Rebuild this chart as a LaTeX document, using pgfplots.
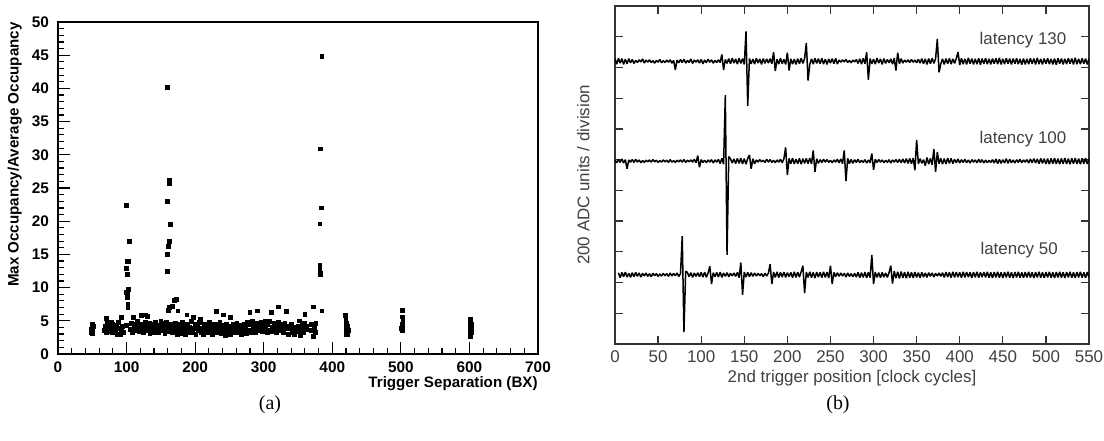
\documentclass[border=0pt]{standalone}
\usepackage{fontspec}
\setmainfont{Liberation Serif}
\newfontfamily\arial{Liberation Sans}
\usepackage{pgfplots}
\pgfplotsset{compat=1.18}
\pgfplotsset{trace/.style={black, line width=0.75bp, mark=none, line join=bevel}}

\begin{document}
\begin{tikzpicture}
\useasboundingbox (0,0) rectangle (552bp,220.5bp);

% (a) occupancy ratio vs trigger separation
\begin{axis}[
    at={(29bp,43.5bp)}, anchor=south west,
    scale only axis, width=240bp, height=166bp,
    xmin=0, xmax=700, ymin=0, ymax=50,
    xtick={0,100,...,700}, ytick={0,5,...,50},
    minor x tick num=4, minor y tick num=4,
    tick align=inside, tick pos=left,
    major tick length=6bp, minor tick length=3bp,
    axis line style={line width=0.7bp},
    every tick/.style={black, line width=0.6bp},
    /pgf/number format/assume math mode=true,
    ticklabel style={font=\arial\bfseries\fontsize{7.7}{9}\selectfont},
    xticklabel style={yshift=-0.5bp},
    yticklabel style={xshift=-1bp},
    xlabel={Trigger Separation (BX)},
    ylabel={Max Occupancy/Average Occupancy},
    label style={font=\arial\bfseries\fontsize{7.6}{9}\selectfont, inner sep=0pt},
    xlabel style={at={(axis description cs:1,0)}, anchor=north east, yshift=-11bp},
    ylabel style={at={(axis description cs:-0.09,1)}, anchor=east},
    clip=false,
]
\addplot[only marks, mark=square*, mark size=0.95bp, black] coordinates {
(49,3.3)(49,3.7)(50,4.1)(50,4.4)(51,3.5)(51,3.9)(52,4.2)(50,3.1)
(68,3.6)(69,4.2)(70,5.4)(71,3.3)(72,4.6)(70,3.9)
(76,3.4)(77,4.0)(78,4.7)(79,3.2)(80,3.8)(80,4.4)
(84,3.5)(85,4.3)(86,3.0)(87,3.9)(88,4.8)
(91,2.9)(92,3.6)(93,5.5)(94,4.2)(95,3.2)
(100,4.3)
(106,3.7)(107,4.6)(108,3.3)(110,5.5)(111,4.0)(112,3.5)
(114,4.4)(115,3.8)(116,4.9)(118,3.4)(119,4.1)(120,3.6)
(122,5.8)(123,4.5)(124,3.2)(125,4.0)(126,3.7)(127,4.8)(128,5.9)
(130,5.7)(131,4.2)(132,3.5)(133,4.6)(134,3.1)(136,3.9)
(138,4.4)(139,3.3)(141,4.0)(142,4.7)(144,3.6)(145,4.3)(146,3.2)
(148,4.1)(150,5.0)(151,3.5)(152,4.6)(154,3.8)(155,4.4)(156,3.1)
(158,4.8)(159,3.4)(161,4.1)(163,3.7)(164,4.5)(166,3.2)
(168,4.0)(169,3.3)(171,4.6)(172,3.6)(174,2.9)(175,4.2)(176,3.5)
(178,4.4)(179,3.1)(181,3.8)(182,4.7)(184,3.4)(185,4.2)(186,3.0)
(188,5.9)(189,4.5)(190,3.3)(192,4.0)(193,3.6)(195,4.9)(196,3.2)
(198,5.5)(199,3.8)(200,4.4)(201,3.0)(203,4.1)(204,3.5)(206,4.8)
(208,5.2)(209,3.3)(210,3.9)(212,2.9)(213,4.5)(214,3.6)(216,4.2)
(218,3.2)(219,4.0)(221,4.7)(222,3.4)(224,3.9)(225,3.0)(226,4.4)
(228,3.7)(229,4.5)(231,6.4)(232,3.3)(233,4.1)(235,3.6)(236,4.8)
(238,3.1)(239,4.3)(241,5.9)(242,3.5)(243,4.0)(244,2.8)(246,4.4)
(248,3.4)(249,4.2)(251,3.0)(252,5.5)(253,3.8)(255,4.5)(256,3.2)
(258,4.1)(259,3.6)(261,4.6)(262,3.3)(264,4.0)(265,3.5)(266,4.3)
(268,3.0)(269,3.9)(271,4.5)(272,3.4)(274,4.2)(275,3.1)(276,4.7)
(278,3.6)(280,6.3)(281,4.4)(282,3.3)(284,4.9)(285,3.8)(286,4.2)
(288,3.2)(289,4.6)(291,6.5)(292,3.5)(293,4.1)(295,3.9)(296,4.8)
(298,3.4)(299,4.4)(301,3.7)(302,5.0)(303,4.2)(305,3.3)(306,4.5)
(308,3.6)(309,4.9)(311,6.3)(312,4.0)(313,3.4)(315,4.6)(316,3.8)
(318,4.3)(319,3.2)(321,4.8)(322,7.1)(323,3.7)(325,4.4)(326,3.5)
(328,4.1)(329,3.3)(331,4.6)(332,3.8)(333,6.4)(335,4.2)(336,3.0)
(338,3.9)(340,4.5)(341,3.2)(343,4.0)(345,2.9)(346,3.6)
(350,4.1)(351,3.4)(352,5.0)(354,2.8)(355,3.9)(356,4.4)
(358,3.3)(359,4.6)(360,6.0)(362,3.7)(363,4.2)
(369,4.4)(370,3.5)(372,7.1)(373,2.7)(374,4.0)(375,3.2)(376,4.6)
(419,5.8)(420,5.3)(421,4.6)(422,4.2)(421,3.8)(420,3.4)(421,3.0)(422,2.9)(423,3.6)
(502,6.6)(502,5.6)(503,5.0)(502,4.4)(503,4.0)(501,3.8)(502,3.6)(503,4.7)
(601,5.3)(602,4.9)(603,4.5)(601,4.1)(602,3.6)(603,3.2)(602,2.9)(601,2.6)(603,3.9)
(385,44.8)(160,40.2)(383,30.9)(162,26.1)(163,25.7)(160,23.0)(100,22.4)(384,22.0)
(164,19.5)(382,19.6)(104,17.0)(163,17.0)(161,16.2)(160,15.0)(101,14.0)(103,14.0)
(382,13.4)(382,12.8)(383,12.2)(383,11.9)(160,12.5)(100,12.9)(101,12.0)(103,9.7)
(100,9.3)(101,9.0)(101,8.5)(102,7.5)(102,7.0)(385,6.5)(161,6.6)(163,7.0)(167,7.2)
(170,8.1)(173,8.2)(175,6.5)
};
\end{axis}

% (b) traces for three latencies
\begin{axis}[
    at={(307.5bp,48.5bp)}, anchor=south west,
    scale only axis, width=237bp, height=169bp,
    xmin=0, xmax=550, ymin=0, ymax=11,
    xtick={0,50,...,550}, ytick={1,...,10}, yticklabels={},
    tick align=inside, major tick length=3.8bp,
    axis line style={black!80, line width=0.6bp},
    every tick/.style={black!80, line width=0.6bp},
    /pgf/number format/assume math mode=true,
    ticklabel style={font=\arial\fontsize{8.5}{10}\selectfont, text=black!75},
    xlabel={2nd trigger position [clock cycles]},
    ylabel={200 ADC units / division},
    label style={font=\arial\fontsize{8.5}{10}\selectfont, text=black!75},
    xlabel style={at={(axis description cs:0.5,0)}, anchor=north, yshift=-13bp, inner sep=0pt},
    ylabel style={at={(axis description cs:-0.067,0.5)}, anchor=center},
]
\addplot[trace] coordinates {
(0,9.28)(2,9.11)(4,9.30)(6,9.14)(8,9.29)(10,9.10)(12,9.27)(14,9.12)(16,9.29)(18,9.15)
(20,9.26)(22,9.13)(24,9.23)(26,9.16)(28,9.25)(30,9.18)(32,9.28)(34,9.14)(36,9.24)(38,9.17)
(40,9.25)(42,9.16)(44,9.22)(46,9.14)(48,9.23)(50,9.17)(52,9.26)(54,9.15)(56,9.22)(58,9.16)
(60,9.24)(62,9.17)(64,9.25)(66,9.14)(68,9.23)(70,8.92)(72,9.24)(74,9.15)(76,9.26)(78,9.16)
(80,9.27)(82,9.14)(84,9.23)(86,9.16)(88,9.28)(90,9.13)(92,9.24)(94,9.17)(96,9.25)(98,9.14)
(100,9.26)(102,9.12)(104,9.24)(106,9.15)(108,9.27)(110,9.17)(112,9.25)(114,9.14)(116,9.23)(118,9.16)
(120,9.25)(122,9.16)(124,9.42)(126,8.92)(128,9.26)(130,9.13)(132,9.29)(134,9.12)(136,9.30)(138,9.14)
(140,9.28)(142,9.11)(144,9.30)(146,9.13)(148,9.29)(150,9.10)(152,10.17)(154,7.75)(156,9.29)(158,9.12)
(160,9.27)(162,9.11)(164,9.30)(166,9.14)(168,9.28)(170,9.10)(172,9.29)(174,9.13)(176,9.28)(178,9.14)
(180,9.29)(182,9.12)(184,9.50)(186,8.88)(188,9.27)(190,9.11)(192,9.30)(194,9.12)(196,9.26)(198,9.10)
(200,9.48)(202,8.90)(204,9.28)(206,9.11)(208,9.27)(210,9.10)(212,9.29)(214,9.12)(216,9.30)(218,9.13)
(220,9.29)(222,9.80)(224,8.57)(226,9.10)(228,9.28)(230,9.11)(232,9.30)(234,9.13)(236,9.29)(238,9.12)
(240,9.30)(242,9.11)(244,9.27)(246,9.10)(248,9.28)(250,9.14)(252,9.29)(254,9.12)(256,9.30)(258,9.11)
(260,9.24)(262,9.17)(264,9.25)(266,9.18)(268,9.26)(270,9.16)(272,9.23)(274,9.15)(276,9.24)(278,9.18)
(280,9.26)(282,9.13)(284,9.28)(286,9.11)(288,9.30)(290,9.12)(292,9.50)(294,8.60)(296,9.29)(298,9.12)
(300,9.27)(302,9.11)(304,9.30)(306,9.14)(308,9.28)(310,9.10)(312,9.29)(314,9.13)(316,9.26)(318,9.15)
(320,9.28)(322,9.11)(324,9.30)(326,8.90)(328,9.48)(330,9.12)(332,9.29)(334,9.14)(336,9.24)(338,9.17)
(340,9.25)(342,9.16)(344,9.26)(346,9.17)(348,9.24)(350,9.15)(352,9.27)(354,9.14)(356,9.29)(358,9.12)
(360,9.28)(362,9.10)(364,9.29)(366,9.12)(368,9.30)(370,9.13)(372,9.29)(374,9.93)(376,8.84)(378,9.11)
(380,9.28)(382,9.10)(384,9.29)(386,9.12)(388,9.30)(390,9.11)(392,9.28)(394,9.13)(396,9.29)(398,9.50)
(400,9.08)(402,9.30)(404,9.11)(406,9.28)(408,9.10)(410,9.31)(412,9.12)(414,9.29)(416,9.10)(418,9.28)
(420,9.11)(422,9.30)(424,9.09)(426,9.29)(428,9.12)(430,9.30)(432,9.11)(434,9.28)(436,9.10)(438,9.29)
(440,9.12)(442,9.30)(444,9.11)(446,9.31)(448,9.10)(450,9.28)(452,9.11)(454,9.30)(456,9.12)(458,9.29)
(460,9.10)(462,9.29)(464,9.12)(466,9.30)(468,9.11)(470,9.28)(472,9.09)(474,9.29)(476,9.10)(478,9.28)
(480,9.11)(482,9.30)(484,9.12)(486,9.29)(488,9.10)(490,9.31)(492,9.11)(494,9.28)(496,9.10)(498,9.29)
(500,9.12)(502,9.30)(504,9.11)(506,9.28)(508,9.10)(510,9.29)(512,9.09)(514,9.30)(516,9.12)(518,9.29)
(520,9.10)(522,9.28)(524,9.11)(526,9.30)(528,9.12)(530,9.29)(532,9.10)(534,9.31)(536,9.11)(538,9.28)
(540,9.11)(542,9.30)(544,9.12)(546,9.29)(548,9.10)(550,9.28)
};
\addplot[trace] coordinates {
(0,5.98)(2,5.90)(4,6.01)(6,5.91)(8,6.02)(10,5.89)(12,6.00)(14,5.70)(16,5.99)(18,5.92)
(20,6.00)(22,5.91)(24,6.01)(26,5.92)(28,5.99)(30,5.90)(32,5.97)(34,5.91)(36,5.98)(38,5.93)
(40,5.99)(42,5.92)(44,6.00)(46,5.93)(48,5.98)(50,5.91)(52,5.97)(54,5.92)(56,5.99)(58,5.93)
(60,5.98)(62,5.91)(64,6.00)(66,5.92)(68,5.97)(70,5.91)(72,5.98)(74,5.93)(76,5.99)(78,5.92)
(80,6.00)(82,5.91)(84,5.98)(86,5.93)(88,5.99)(90,5.92)(92,6.01)(94,5.90)(96,6.13)(98,5.75)
(100,6.00)(102,5.91)(104,5.98)(106,5.90)(108,5.99)(110,5.92)(112,6.00)(114,5.89)(116,5.99)(118,5.92)
(120,6.01)(122,5.87)(124,6.04)(126,5.85)(128,8.10)(130,2.90)(132,6.10)(134,6.03)(136,5.89)(138,6.02)
(140,5.87)(142,6.04)(144,5.88)(146,6.05)(148,5.86)(150,6.03)(152,5.85)(154,6.04)(156,6.15)(158,5.70)
(160,6.03)(162,5.86)(164,5.99)(166,5.92)(168,6.00)(170,5.93)(172,5.98)(174,5.91)(176,6.01)(178,5.92)
(180,6.00)(182,5.91)(184,5.98)(186,5.90)(188,5.99)(190,5.92)(192,6.01)(194,5.90)(196,6.03)(198,6.40)
(200,5.50)(202,6.04)(204,5.87)(206,6.05)(208,5.86)(210,6.02)(212,5.87)(214,6.04)(216,5.85)(218,6.03)
(220,5.88)(222,6.04)(224,5.87)(226,6.05)(228,5.86)(230,6.30)(232,5.60)(234,6.03)(236,5.88)(238,6.00)
(240,5.91)(242,6.01)(244,5.92)(246,6.00)(248,5.91)(250,5.98)(252,5.90)(254,5.99)(256,5.92)(258,6.01)
(260,5.90)(262,6.02)(264,5.87)(266,6.30)(268,5.30)(270,6.04)(272,5.87)(274,6.01)(276,5.88)(278,6.00)
(280,5.91)(282,6.01)(284,5.90)(286,5.98)(288,5.91)(290,6.00)(292,5.89)(294,5.99)(296,5.90)(298,6.20)
(300,5.67)(302,6.01)(304,5.91)(306,6.00)(308,5.92)(310,5.99)(312,5.90)(314,5.98)(316,5.91)(318,6.00)
(320,5.89)(322,5.99)(324,5.92)(326,6.00)(328,5.91)(330,6.01)(332,5.90)(334,6.02)(336,5.89)(338,6.03)
(340,5.88)(342,6.04)(344,5.87)(346,6.05)(348,5.65)(350,6.64)(352,5.86)(354,6.03)(356,5.88)(358,6.00)
(360,5.80)(362,6.07)(364,5.85)(366,6.04)(368,5.83)(370,6.35)(372,5.60)(374,6.25)(376,5.87)(378,6.04)
(380,5.85)(382,6.03)(384,5.86)(386,6.05)(388,5.88)(390,6.04)(392,5.87)(394,6.01)(396,5.90)(398,6.02)
(400,5.89)(402,6.00)(404,5.91)(406,6.01)(408,5.90)(410,5.99)(412,5.89)(414,6.00)(416,5.92)(418,5.99)
(420,5.90)(422,6.01)(424,5.91)(426,6.00)(428,5.89)(430,5.99)(432,5.90)(434,5.98)(436,5.91)(438,6.00)
(440,5.89)(442,6.02)(444,5.87)(446,6.01)(448,5.88)(450,6.00)(452,5.89)(454,6.03)(456,5.88)(458,6.01)
(460,5.90)(462,5.99)(464,5.89)(466,6.00)(468,5.91)(470,6.01)(472,5.90)(474,5.99)(476,5.92)(478,6.00)
(480,5.89)(482,6.02)(484,5.90)(486,6.03)(488,5.89)(490,6.02)(492,5.87)(494,6.04)(496,5.88)(498,6.03)
(500,5.86)(502,6.03)(504,5.85)(506,6.04)(508,5.87)(510,6.05)(512,5.86)(514,6.03)(516,5.85)(518,6.04)
(520,5.87)(522,6.05)(524,5.86)(526,6.03)(528,5.85)(530,6.04)(532,5.87)(534,6.05)(536,5.86)(538,6.03)
(540,5.85)(542,6.04)(544,5.87)(546,6.05)(548,5.86)(550,6.03)
};
\addplot[trace] coordinates {
(4,2.32)(6,2.16)(8,2.33)(10,2.19)(12,2.34)(14,2.18)(16,2.30)(18,2.17)
(20,2.32)(22,2.19)(24,2.33)(26,2.20)(28,2.31)(30,2.18)(32,2.30)(34,2.21)(36,2.31)(38,2.20)
(40,2.29)(42,2.19)(44,2.30)(46,2.22)(48,2.29)(50,2.20)(52,2.28)(54,2.21)(56,2.30)(58,2.22)
(60,2.29)(62,2.20)(64,2.31)(66,2.21)(68,2.30)(70,2.22)(72,2.31)(74,2.20)(76,2.29)(78,3.51)
(80,0.39)(82,2.37)(84,2.33)(86,2.19)(88,2.32)(90,2.17)(92,2.31)(94,2.20)(96,2.32)(98,2.19)
(100,2.33)(102,2.18)(104,2.34)(106,2.17)(108,2.31)(110,2.53)(112,1.95)(114,2.32)(116,2.19)(118,2.33)
(120,2.18)(122,2.34)(124,2.17)(126,2.31)(128,2.20)(130,2.32)(132,2.19)(134,2.30)(136,2.21)(138,2.31)
(140,2.20)(142,2.33)(144,2.16)(146,2.65)(148,1.60)(150,2.34)(152,2.18)(154,2.33)(156,2.19)(158,2.32)
(160,2.20)(162,2.31)(164,2.21)(166,2.30)(168,2.22)(170,2.29)(172,2.19)(174,2.30)(176,2.21)(178,2.31)
(180,2.60)(182,1.95)(184,2.34)(186,2.17)(188,2.35)(190,2.16)(192,2.33)(194,2.18)(196,2.34)(198,2.17)
(200,2.32)(202,2.19)(204,2.33)(206,2.16)(208,2.35)(210,2.17)(212,2.34)(214,2.18)(216,2.35)(218,2.55)
(220,1.65)(222,2.34)(224,2.17)(226,2.35)(228,2.16)(230,2.33)(232,2.15)(234,2.34)(236,2.18)(238,2.33)
(240,2.16)(242,2.35)(244,2.17)(246,2.34)(248,2.15)(250,2.55)(252,1.95)(254,2.33)(256,2.19)(258,2.32)
(260,2.20)(262,2.31)(264,2.21)(266,2.30)(268,2.18)(270,2.31)(272,2.20)(274,2.29)(276,2.19)(278,2.30)
(280,2.18)(282,2.33)(284,2.16)(286,2.32)(288,2.17)(290,2.34)(292,2.15)(294,2.33)(296,2.16)(298,2.90)
(300,1.95)(302,2.34)(304,2.17)(306,2.32)(308,2.16)(310,2.33)(312,2.18)(314,2.31)(316,2.17)(318,2.32)
(320,2.55)(322,1.97)(324,2.37)(326,2.14)(328,2.35)(330,2.13)(332,2.36)(334,2.15)(336,2.34)(338,2.14)
(340,2.35)(342,2.16)(344,2.33)(346,2.15)(348,2.34)(350,2.17)(352,2.32)(354,2.16)(356,2.33)(358,2.18)
(360,2.31)(362,2.17)(364,2.32)(366,2.20)(368,2.31)(370,2.18)(372,2.30)(374,2.21)(376,2.31)(378,2.20)
(380,2.32)(382,2.17)(384,2.34)(386,2.18)(388,2.33)(390,2.16)(392,2.35)(394,2.17)(396,2.34)(398,2.18)
(400,2.33)(402,2.16)(404,2.35)(406,2.17)(408,2.34)(410,2.18)(412,2.33)(414,2.15)(416,2.34)(418,2.17)
(420,2.35)(422,2.16)(424,2.33)(426,2.18)(428,2.34)(430,2.17)(432,2.35)(434,2.16)(436,2.33)(438,2.15)
(440,2.34)(442,2.17)(444,2.35)(446,2.16)(448,2.33)(450,2.15)(452,2.34)(454,2.17)(456,2.35)(458,2.16)
(460,2.33)(462,2.15)(464,2.34)(466,2.17)(468,2.35)(470,2.16)(472,2.33)(474,2.15)(476,2.34)(478,2.17)
(480,2.35)(482,2.16)(484,2.33)(486,2.15)(488,2.34)(490,2.17)(492,2.35)(494,2.16)(496,2.33)(498,2.15)
(500,2.34)(502,2.17)(504,2.35)(506,2.16)(508,2.33)(510,2.15)(512,2.34)(514,2.17)(516,2.35)(518,2.16)
(520,2.33)(522,2.15)(524,2.34)(526,2.17)(528,2.35)(530,2.16)(532,2.33)(534,2.15)(536,2.34)(538,2.17)
(540,2.35)(542,2.16)(544,2.33)(546,2.15)(548,2.34)(550,2.17)
};
\node[anchor=west, font=\arial\fontsize{8.5}{10}\selectfont, text=black!75] at (axis cs:415,9.9) {latency 130};
\node[anchor=west, font=\arial\fontsize{8.5}{10}\selectfont, text=black!75] at (axis cs:415,6.66) {latency 100};
\node[anchor=west, font=\arial\fontsize{8.5}{10}\selectfont, text=black!75] at (axis cs:416,3.06) {latency 50};
\end{axis}

\node[font=\fontsize{10}{12}\selectfont] at (135bp,18bp) {(a)};
\node[font=\fontsize{10}{12}\selectfont] at (419bp,18bp) {(b)};
\end{tikzpicture}
\end{document}
